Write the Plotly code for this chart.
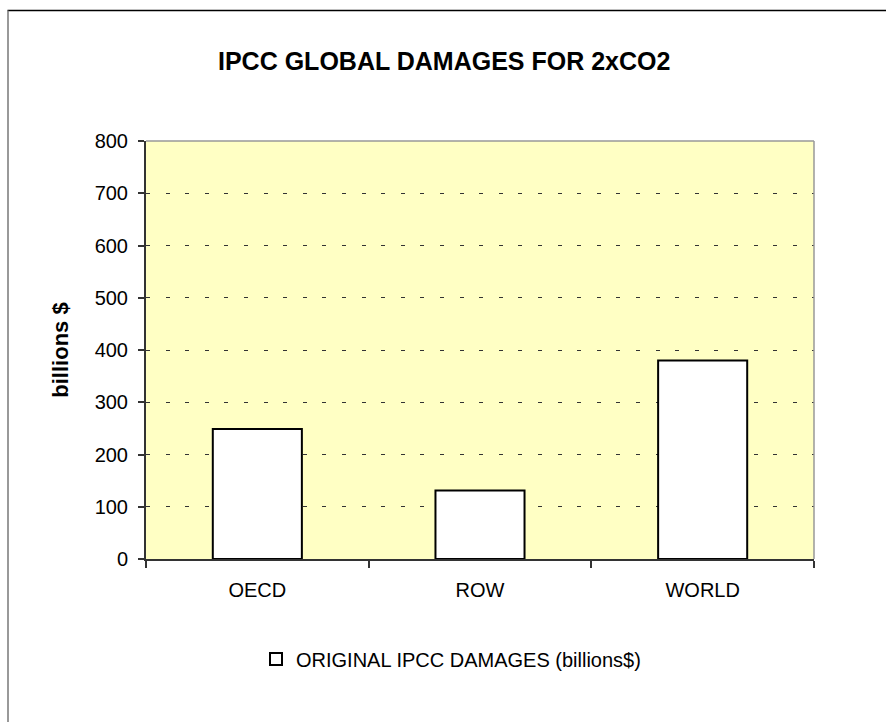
import plotly.graph_objects as go

categories = ["OECD", "ROW", "WORLD"]
damages = [249, 131, 380]
series_name = "ORIGINAL IPCC DAMAGES (billions$)"
title_text = "IPCC GLOBAL DAMAGES FOR 2xCO2"
y_title = "billions $"
y_ticks = [0, 100, 200, 300, 400, 500, 600, 700, 800]

W, H = 886, 722
L, R, T, B = 146, 72, 141, 163
pw, ph = W - L - R, H - T - B

def px_x(x):
    return (x - L) / pw

def px_y(y):
    return (H - B - y) / ph

FONT = "Liberation Sans, Arial, sans-serif"

fig = go.Figure()
fig.add_trace(go.Bar(
    x=categories, y=damages, name=series_name,
    marker=dict(color="white", line=dict(color="black", width=2)),
    showlegend=True,
))

fig.update_layout(
    width=W, height=H,
    margin=dict(l=L, r=R, t=T, b=B, autoexpand=False),
    paper_bgcolor="white",
    plot_bgcolor="#FFFFC4",
    bargap=0.6,
    font=dict(family=FONT, color="black", size=20),
    showlegend=True,
    legend=dict(
        orientation="h", x=px_x(296 - 40), y=px_y(659), xanchor="left", yanchor="middle",
        font=dict(size=20, family=FONT), bgcolor="rgba(0,0,0,0)",
        itemsizing="constant",
    ),
    xaxis=dict(
        type="category", showgrid=False, showline=True, linecolor="#333", linewidth=2,
        ticks="outside", ticklen=7, tickcolor="#333", tickwidth=1.5,
        tickson="boundaries", ticklabelstandoff=12,
        tickfont=dict(size=20, family=FONT), fixedrange=True,
    ),
    yaxis=dict(
        range=[0, 800], tickvals=y_ticks, showline=True, linecolor="#333", linewidth=2,
        ticks="outside", ticklen=6, tickcolor="#333", tickwidth=1.5,
        ticklabelstandoff=6,
        showgrid=True, gridcolor="#333", gridwidth=1, griddash="4px,15.6px",
        zeroline=False, fixedrange=True,
        tickfont=dict(size=20, family=FONT),
        title=dict(text=y_title, font=dict(size=22, family=FONT, weight="bold"), standoff=20),
    ),
    annotations=[
        dict(text="<b>" + title_text + "</b>", x=px_x(444), y=px_y(61),
             xref="paper", yref="paper", showarrow=False, xanchor="center", yanchor="middle",
             font=dict(size=25, family=FONT, color="black")),
    ],
    shapes=[
        dict(type="line", xref="paper", yref="paper", x0=0, x1=1, y0=1, y1=1,
             line=dict(color="#999", width=1.5)),
        dict(type="line", xref="paper", yref="paper", x0=1, x1=1, y0=0, y1=1,
             line=dict(color="#999", width=1.5)),
        dict(type="line", xref="paper", yref="paper", x0=px_x(7.5), x1=px_x(W + 5),
             y0=px_y(10.5), y1=px_y(10.5), line=dict(color="black", width=1.5)),
        dict(type="line", xref="paper", yref="paper", x0=px_x(8), x1=px_x(8),
             y0=px_y(10.5), y1=px_y(H + 5), line=dict(color="#777", width=1.5)),
    ],
)

fig.write_html("out.html", config={"displayModeBar": False},
               post_script="document.body.style.margin='0';")
